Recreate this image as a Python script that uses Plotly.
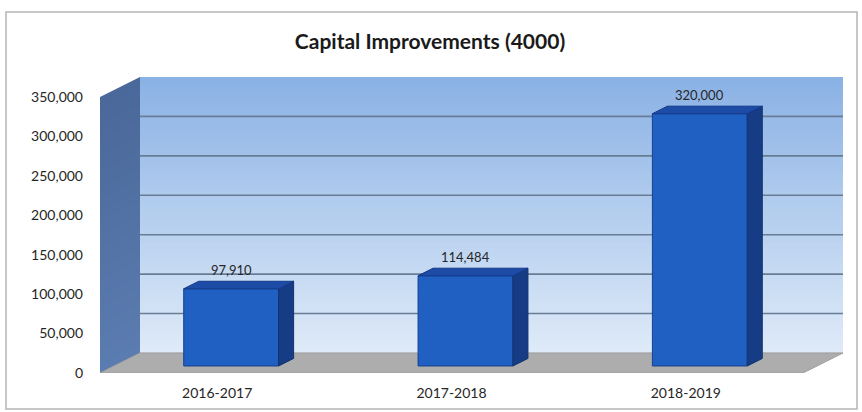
import plotly.graph_objects as go

# ---- data -------------------------------------------------------------
categories = ["2016-2017", "2017-2018", "2018-2019"]
values = [97910, 114484, 320000]
value_labels = ["97,910", "114,484", "320,000"]
y_ticks = [0, 50000, 100000, 150000, 200000, 250000, 300000, 350000]

# ---- geometry ---------------------------------------------------------
W, H = 862, 412
L, R, T, B = 100, 19, 77, 39
plot_w = W - L - R
plot_h = H - T - B

Y_MAX = y_ticks[-1]
X0, X1 = -0.5, len(categories) - 0.5
DX = 0.1707          # oblique depth of the box along x (category units)
DY = 25450           # oblique depth of the box along y (value units)
FRONT = 0.35         # depth fraction where the bar fronts sit
DEPTH = 0.375        # depth fraction taken by each bar
BAR_W = 0.405

FONT = "Lato"
TXT = "#262626"


def lerp_color(c0, c1, t):
    a = [int(c0[i:i + 2], 16) for i in (1, 3, 5)]
    b = [int(c1[i:i + 2], 16) for i in (1, 3, 5)]
    return "rgb(%d,%d,%d)" % tuple(round(a[k] + (b[k] - a[k]) * t) for k in range(3))


def path(pts):
    return "M " + " L ".join(f"{x},{y}" for x, y in pts) + " Z"


shapes = []
N = 60
# back wall, vertical gradient
for k in range(N):
    ya = DY + Y_MAX * k / N
    yb = DY + Y_MAX * (k + 1) / N
    shapes.append(dict(type="rect", xref="x", yref="y", layer="below",
                       x0=X0 + DX, x1=X1 + DX, y0=ya, y1=min(yb + Y_MAX / N * 0.5, Y_MAX + DY),
                       fillcolor=lerp_color("#deeaf8", "#8bb2e5", k / (N - 1)),
                       line=dict(width=0)))
# left side wall
for k in range(N):
    ya = Y_MAX * k / N
    yb = min(Y_MAX * (k + 1) / N + Y_MAX / N * 0.5, Y_MAX)
    shapes.append(dict(type="path", xref="x", yref="y", layer="below",
                       path=path([(X0, ya), (X0 + DX, ya + DY),
                                  (X0 + DX, yb + DY), (X0, yb)]),
                       fillcolor=lerp_color("#5b7cb0", "#4a6899", k / (N - 1)),
                       line=dict(width=0)))
# floor
shapes.append(dict(type="path", xref="x", yref="y", layer="below",
                   path=path([(X0, 0), (X1, 0), (X1 + DX, DY), (X0 + DX, DY)]),
                   fillcolor="#adadad", line=dict(color="#9c9c9c", width=1)))
# gridlines on the back wall
for t in y_ticks[1:-1]:
    shapes.append(dict(type="line", xref="x", yref="y", layer="below",
                       x0=X0 + DX, x1=X1 + DX, y0=t + DY, y1=t + DY,
                       line=dict(color="#687c96", width=1.6)))
# chart frame
shapes.append(dict(type="rect", xref="paper", yref="paper", layer="below",
                   x0=(6 - L) / plot_w, x1=(857 - L) / plot_w,
                   y0=(H - B - 409) / plot_h, y1=(H - B - 12) / plot_h,
                   line=dict(color="#b5b5b5", width=1.5), fillcolor="rgba(0,0,0,0)"))

fig = go.Figure()

# bar fronts
bar_x = [i + FRONT * DX for i in range(len(categories))]
base = FRONT * DY
fig.add_trace(go.Bar(x=bar_x, y=values, base=base, width=BAR_W,
                     marker=dict(color="#2160c3", line=dict(color="#17408c", width=1)),
                     hoverinfo="skip"))

# bar sides and tops
side_x, side_y, top_x, top_y = [], [], [], []
for xc, v in zip(bar_x, values):
    xl, xr = xc - BAR_W / 2, xc + BAR_W / 2
    ddx, ddy = DEPTH * DX, DEPTH * DY
    side_x += [xr, xr + ddx, xr + ddx, xr, xr, None]
    side_y += [base, base + ddy, base + v + ddy, base + v, base, None]
    top_x += [xl, xl + ddx, xr + ddx, xr, xl, None]
    top_y += [base + v, base + v + ddy, base + v + ddy, base + v, base + v, None]
fig.add_trace(go.Scatter(x=side_x, y=side_y, fill="toself", mode="lines",
                         fillcolor="#163c85", line=dict(color="#12336f", width=1),
                         hoverinfo="skip"))
fig.add_trace(go.Scatter(x=top_x, y=top_y, fill="toself", mode="lines",
                         fillcolor="#1d4ca6", line=dict(color="#15398a", width=1),
                         hoverinfo="skip"))

annotations = []
for xc, v, lab in zip(bar_x, values, value_labels):
    annotations.append(dict(x=xc, y=base + v + DEPTH * DY, text=lab, showarrow=False,
                            xanchor="center", yanchor="bottom", yshift=1,
                            font=dict(family=FONT, size=13, color=TXT)))

fig.update_layout(
    width=W, height=H,
    margin=dict(l=L, r=R, t=T, b=B, pad=0),
    paper_bgcolor="white", plot_bgcolor="rgba(0,0,0,0)",
    showlegend=False,
    title=dict(text="<b>Capital Improvements (4000)</b>", x=430 / W, xanchor="center",
               y=1 - 42 / H, yanchor="middle", yref="container",
               font=dict(family=FONT, size=21, color="#1a1a1a")),
    shapes=shapes, annotations=annotations,
    xaxis=dict(range=[X0, X1 + DX], tickvals=list(range(len(categories))),
               ticktext=categories, showgrid=False, zeroline=False, showline=False,
               ticks="", ticklabelstandoff=10,
               tickfont=dict(family=FONT, size=14, color=TXT), fixedrange=True),
    yaxis=dict(range=[0, Y_MAX + DY], tickvals=y_ticks, tickformat=",",
               showgrid=False, zeroline=False, showline=False, ticks="",
               ticklabelstandoff=16,
               tickfont=dict(family=FONT, size=14, color=TXT), fixedrange=True),
)

fig.write_html("out.html")
